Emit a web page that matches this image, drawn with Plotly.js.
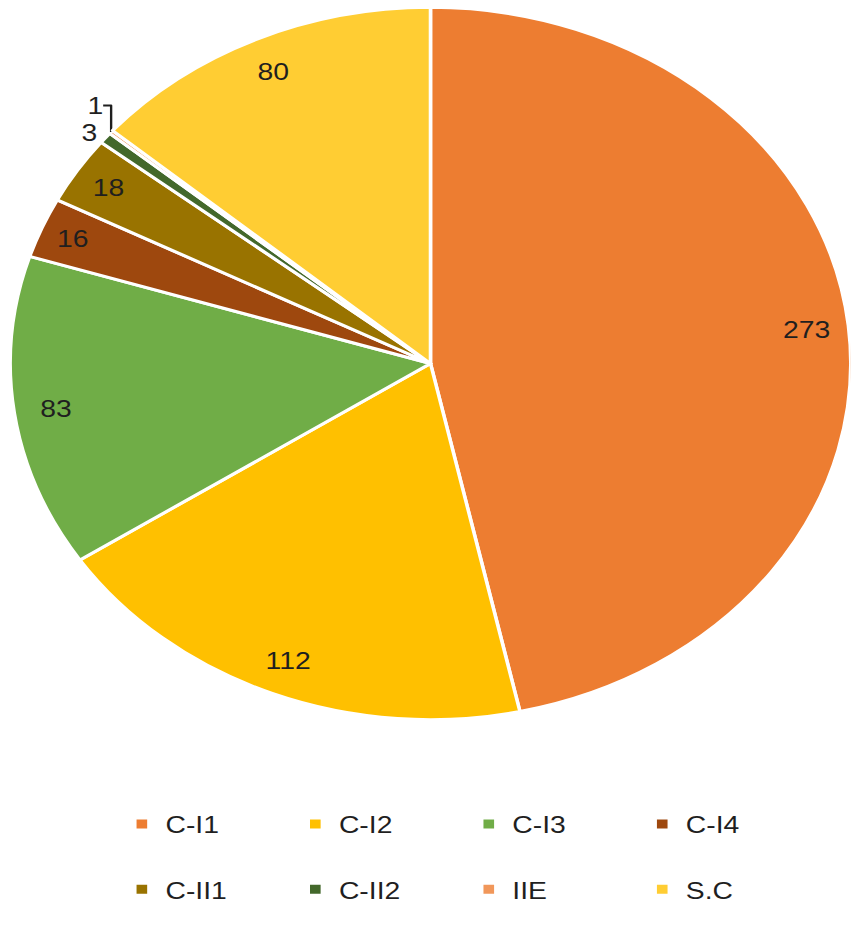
<!DOCTYPE html>
<html>
<head>
<meta charset="utf-8">
<script src="https://cdn.plot.ly/plotly-3.0.1.min.js"></script>
<style>
  html, body { margin: 0; padding: 0; background: #fff; overflow: hidden; }
  #wrap { width: 851px; height: 927px; overflow: hidden; }
  #chart { width: 721px; height: 927px; transform: scaleX(1.18); transform-origin: 0 0; }
</style>
</head>
<body>
<div id="wrap"><div id="chart"></div></div>
<script>
const categories = ["C-I1", "C-I2", "C-I3", "C-I4", "C-II1", "C-II2", "IIE", "S.C"];
const values = [273, 112, 83, 16, 18, 3, 1, 80];
const colors = ["#ED7D31", "#FFC000", "#70AD47", "#9E480E", "#997300", "#43682B", "#F1975A", "#FFCD33"];
const outsideLabel = [false, false, false, false, false, true, true, false];

const FONT = "Liberation Sans, Arial, sans-serif";
const domain = { x: [0.012, 1.0], y: [0.2233, 0.9924] };
// first legend row gets an extra empty line to widen the row gap
const legendLabels = categories.map((c, i) => i < 4 ? c + "<br> " : c);

const mainPie = {
  type: "pie",
  labels: legendLabels,
  values: values,
  text: values.map((v, i) => outsideLabel[i] ? String(v) : ""),
  textinfo: "text",
  textposition: outsideLabel.map(o => o ? "outside" : "none"),
  sort: false,
  direction: "clockwise",
  rotation: 0,
  marker: { colors: colors, line: { color: "#ffffff", width: 3 } },
  outsidetextfont: { family: FONT, size: 24, color: "#1f1f1f" },
  domain: domain,
  hoverinfo: "label+value"
};

const labelRing = {
  type: "pie",
  labels: legendLabels,
  values: values,
  hole: 0.8,
  text: values.map((v, i) => outsideLabel[i] ? "" : String(v)),
  textinfo: "text",
  textposition: "inside",
  insidetextorientation: "horizontal",
  sort: false,
  direction: "clockwise",
  rotation: 0,
  showlegend: false,
  marker: { colors: colors.map(() => "rgba(0,0,0,0)"), line: { width: 0 } },
  textfont: { family: FONT, size: 24, color: "#1f1f1f" },
  domain: domain,
  hoverinfo: "skip"
};

const layout = {
  width: 721,
  height: 927,
  margin: { l: 0, r: 0, t: 0, b: 0, autoexpand: false },
  paper_bgcolor: "#ffffff",
  showlegend: true,
  legend: {
    orientation: "h",
    x: 0.139, xanchor: "left",
    y: 0.135, yanchor: "top",
    entrywidth: 102, entrywidthmode: "pixels",
    valign: "top",
    font: { family: FONT, size: 24, color: "#1f1f1f" }
  }
};

Plotly.newPlot("chart", [mainPie, labelRing], layout, { displayModeBar: false, staticPlot: true });
</script>
</body>
</html>
